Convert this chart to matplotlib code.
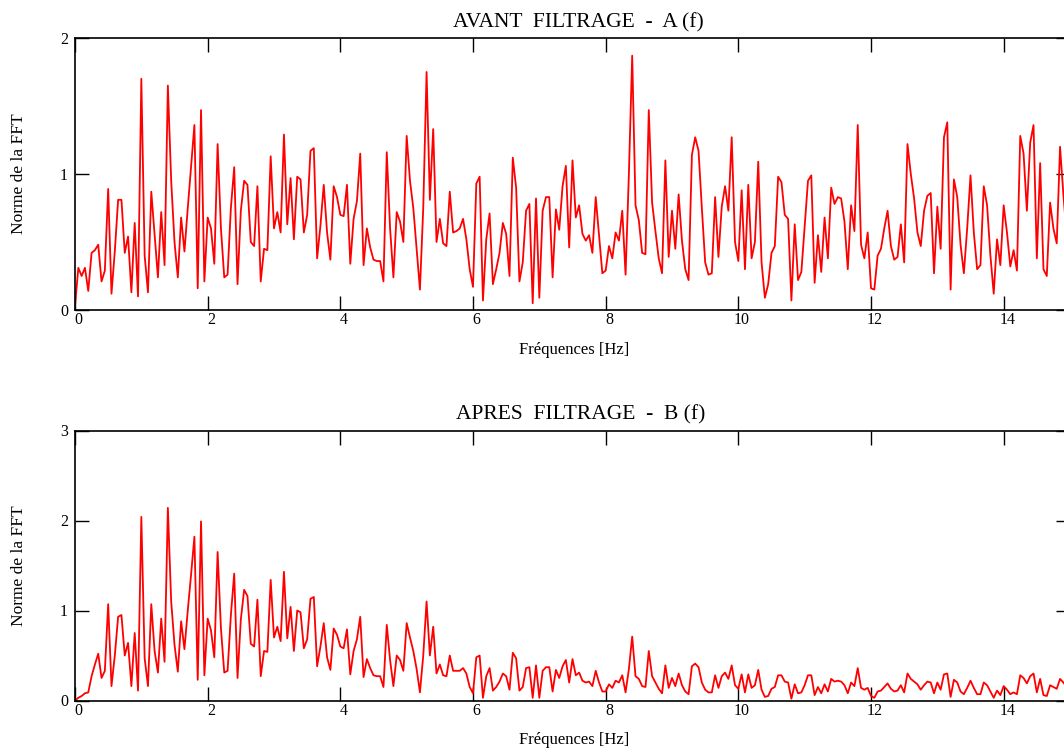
import matplotlib
matplotlib.use('Agg')
import matplotlib.pyplot as plt
import matplotlib.transforms as mtransforms
import numpy as np

plt.rcParams['font.family'] = 'serif'
plt.rcParams['font.serif'] = ['Liberation Serif', 'DejaVu Serif']
plt.rcParams['axes.linewidth'] = 1.2

W, H = 1064, 752
freq_step = 0.05  # Hz between two FFT bins

# |A(f)| before filtering, one value per bin
fft_before = [
    0.03, 0.31, 0.25, 0.31, 0.14, 0.42, 0.44, 0.48, 0.21, 0.29,
    0.89, 0.12, 0.43, 0.81, 0.81, 0.42, 0.54, 0.13, 0.64, 0.10,
    1.70, 0.40, 0.13, 0.87, 0.55, 0.24, 0.72, 0.33, 1.65, 0.95,
    0.50, 0.24, 0.68, 0.43, 0.75, 1.05, 1.36, 0.16, 1.47, 0.21,
    0.68, 0.60, 0.34, 1.22, 0.60, 0.24, 0.26, 0.75, 1.05, 0.19,
    0.73, 0.95, 0.92, 0.50, 0.47, 0.91, 0.21, 0.45, 0.44, 1.13,
    0.60, 0.72, 0.57, 1.29, 0.63, 0.97, 0.52, 0.98, 0.96, 0.57,
    0.70, 1.17, 1.19, 0.38, 0.62, 0.92, 0.57, 0.37, 0.91, 0.83,
    0.70, 0.69, 0.92, 0.34, 0.67, 0.80, 1.15, 0.33, 0.60, 0.46,
    0.37, 0.36, 0.36, 0.21, 1.16, 0.60, 0.24, 0.72, 0.65, 0.50,
    1.28, 0.95, 0.75, 0.45, 0.15, 0.75, 1.75, 0.81, 1.33, 0.50,
    0.67, 0.49, 0.47, 0.87, 0.57, 0.58, 0.60, 0.67, 0.52, 0.30,
    0.17, 0.93, 0.98, 0.07, 0.52, 0.71, 0.19, 0.30, 0.42, 0.64,
    0.56, 0.25, 1.12, 0.90, 0.21, 0.35, 0.73, 0.78, 0.05, 0.82,
    0.09, 0.73, 0.83, 0.83, 0.24, 0.74, 0.59, 0.91, 1.06, 0.46,
    1.10, 0.68, 0.77, 0.56, 0.51, 0.55, 0.42, 0.83, 0.55, 0.27,
    0.29, 0.47, 0.38, 0.57, 0.51, 0.73, 0.26, 1.00, 1.87, 0.77,
    0.66, 0.42, 0.41, 1.47, 0.79, 0.58, 0.38, 0.27, 1.10, 0.39,
    0.73, 0.45, 0.85, 0.51, 0.30, 0.22, 1.14, 1.27, 1.17, 0.75,
    0.35, 0.26, 0.27, 0.83, 0.39, 0.76, 0.91, 0.73, 1.27, 0.50,
    0.36, 0.88, 0.30, 0.92, 0.38, 0.50, 1.09, 0.35, 0.09, 0.19,
    0.42, 0.47, 0.98, 0.94, 0.70, 0.67, 0.07, 0.63, 0.22, 0.28,
    0.61, 0.95, 0.99, 0.20, 0.55, 0.28, 0.68, 0.38, 0.90, 0.78,
    0.83, 0.82, 0.65, 0.30, 0.77, 0.58, 1.36, 0.48, 0.38, 0.57,
    0.16, 0.15, 0.40, 0.45, 0.60, 0.73, 0.47, 0.37, 0.39, 0.63,
    0.35, 1.22, 1.00, 0.82, 0.57, 0.47, 0.73, 0.84, 0.86, 0.27,
    0.76, 0.45, 1.27, 1.38, 0.15, 0.96, 0.83, 0.48, 0.27, 0.60,
    0.99, 0.57, 0.30, 0.33, 0.91, 0.77, 0.40, 0.12, 0.52, 0.33,
    0.77, 0.57, 0.32, 0.44, 0.29, 1.28, 1.15, 0.73, 1.23, 1.36,
    0.38, 1.08, 0.30, 0.25, 0.79, 0.60, 0.49, 1.20, 0.85, 0.55,
]

# |B(f)| after filtering
fft_after = [
    0.00, 0.03, 0.05, 0.08, 0.09, 0.27, 0.40, 0.52, 0.25, 0.33,
    1.07, 0.16, 0.50, 0.93, 0.95, 0.50, 0.64, 0.16, 0.75, 0.11,
    2.04, 0.47, 0.16, 1.07, 0.55, 0.31, 0.91, 0.43, 2.14, 1.10,
    0.62, 0.32, 0.88, 0.57, 1.00, 1.40, 1.82, 0.23, 1.99, 0.28,
    0.91, 0.78, 0.48, 1.65, 0.80, 0.31, 0.33, 0.95, 1.41, 0.25,
    0.90, 1.23, 1.16, 0.63, 0.60, 1.12, 0.27, 0.55, 0.54, 1.34,
    0.70, 0.82, 0.66, 1.43, 0.69, 1.04, 0.55, 1.00, 0.98, 0.58,
    0.68, 1.13, 1.15, 0.38, 0.60, 0.86, 0.48, 0.34, 0.80, 0.73,
    0.60, 0.58, 0.79, 0.29, 0.55, 0.68, 0.93, 0.26, 0.46, 0.36,
    0.28, 0.27, 0.27, 0.15, 0.84, 0.45, 0.16, 0.50, 0.45, 0.33,
    0.86, 0.70, 0.55, 0.35, 0.09, 0.50, 1.10, 0.50, 0.82, 0.30,
    0.40, 0.28, 0.27, 0.50, 0.33, 0.33, 0.33, 0.36, 0.30, 0.15,
    0.08, 0.48, 0.50, 0.03, 0.27, 0.36, 0.11, 0.15, 0.21, 0.30,
    0.27, 0.12, 0.53, 0.47, 0.11, 0.15, 0.36, 0.37, 0.03, 0.39,
    0.03, 0.33, 0.37, 0.37, 0.10, 0.34, 0.25, 0.38, 0.45, 0.20,
    0.46, 0.28, 0.31, 0.22, 0.20, 0.21, 0.16, 0.33, 0.20, 0.10,
    0.10, 0.18, 0.14, 0.22, 0.20, 0.28, 0.09, 0.35, 0.71, 0.27,
    0.24, 0.16, 0.15, 0.55, 0.27, 0.20, 0.13, 0.08, 0.39, 0.14,
    0.25, 0.16, 0.30, 0.17, 0.10, 0.07, 0.38, 0.41, 0.37, 0.20,
    0.12, 0.09, 0.09, 0.28, 0.14, 0.27, 0.31, 0.24, 0.39, 0.17,
    0.13, 0.29, 0.09, 0.29, 0.14, 0.17, 0.34, 0.12, 0.04, 0.05,
    0.13, 0.15, 0.28, 0.28, 0.21, 0.20, 0.02, 0.18, 0.08, 0.09,
    0.17, 0.28, 0.28, 0.06, 0.15, 0.08, 0.18, 0.10, 0.24, 0.21,
    0.22, 0.21, 0.17, 0.08, 0.20, 0.16, 0.36, 0.14, 0.12, 0.14,
    0.05, 0.03, 0.10, 0.11, 0.15, 0.19, 0.13, 0.10, 0.11, 0.17,
    0.09, 0.30, 0.24, 0.21, 0.18, 0.12, 0.17, 0.21, 0.20, 0.08,
    0.20, 0.12, 0.29, 0.30, 0.04, 0.23, 0.20, 0.10, 0.07, 0.14,
    0.22, 0.14, 0.07, 0.07, 0.20, 0.17, 0.10, 0.03, 0.11, 0.06,
    0.16, 0.12, 0.07, 0.09, 0.07, 0.28, 0.25, 0.19, 0.27, 0.30,
    0.09, 0.24, 0.06, 0.05, 0.17, 0.15, 0.13, 0.24, 0.20, 0.15,
]

titles = ['AVANT  FILTRAGE  -  A (f)', 'APRES  FILTRAGE  -  B (f)']
xticks = [0, 2, 4, 6, 8, 10, 12, 14]
yticks_before = [0, 1, 2]
yticks_after = [0, 1, 2, 3]

freqs = np.arange(len(fft_before)) * freq_step


def px_rect(left, top, right, bottom):
    return [left / W, 1 - bottom / H, (right - left) / W, (bottom - top) / H]


def style_panel(ax, title, yticks, title_x):
    ax.set_xlim(0, 15)
    ax.set_ylim(yticks[0], yticks[-1])
    ax.set_xticks(xticks)
    ax.set_yticks(yticks)
    ax.tick_params(direction='in', top=True, right=True, length=10, width=1.0,
                   labelsize=11.5, colors='black')
    ax.tick_params(axis='x', pad=1.5)
    ax.tick_params(axis='y', pad=5)

    # the labels under the x ticks sit a little right of the tick marks
    shift = mtransforms.ScaledTranslation(3.5 / 100, 0, ax.figure.dpi_scale_trans)
    for lbl in ax.get_xticklabels():
        lbl.set_transform(lbl.get_transform() + shift)

    ax.set_title(title, fontsize=15.5, pad=7.9, x=title_x)
    ax.set_xlabel('Fréquences [Hz]', fontsize=12, va='baseline')
    ax.xaxis.set_label_coords(0.502, -44 / (ax.bbox.height))
    ax.set_ylabel('Norme de la FFT', fontsize=12.5, va='baseline')
    ax.yaxis.set_label_coords(-51.5 / 995, 0.5)


fig = plt.figure(figsize=(W / 100, H / 100), dpi=100)

ax1 = fig.add_axes(px_rect(75, 38, 1070, 310))
ax1.plot(freqs, fft_before, color='#ff0000', linewidth=1.3)
style_panel(ax1, titles[0], yticks_before, 0.5055)

ax2 = fig.add_axes(px_rect(75, 430.5, 1070, 700.5))
ax2.plot(freqs, fft_after, color='#ff0000', linewidth=1.3)
style_panel(ax2, titles[1], yticks_after, 0.5085)

fig.savefig('out.png', dpi=100)
